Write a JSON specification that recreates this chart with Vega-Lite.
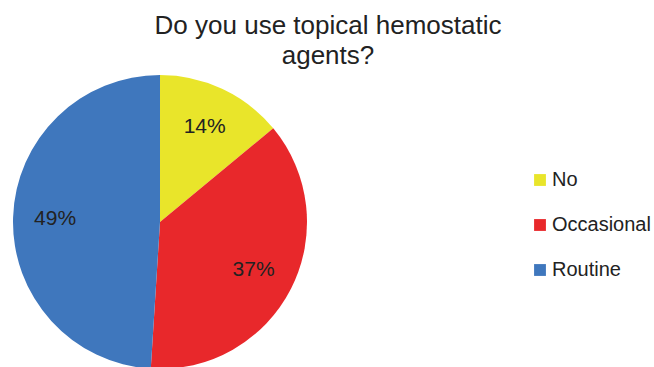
{
  "$schema": "https://vega.github.io/schema/vega-lite/v6.json",
  "autosize": "none",
  "width": 294,
  "height": 294,
  "padding": {"left": 13, "top": 75, "right": 347, "bottom": 0},
  "background": "white",
  "title": {
    "text": ["Do you use topical hemostatic", "agents?"],
    "font": "Liberation Sans",
    "fontSize": 26,
    "fontWeight": "normal",
    "color": "#222222",
    "anchor": "middle",
    "dx": 168,
    "lineHeight": 30,
    "offset": 6
  },
  "data": {
    "values": [
      {"answer": "No", "share": 0.14, "order": 1},
      {"answer": "Occasional", "share": 0.37, "order": 2},
      {"answer": "Routine", "share": 0.49, "order": 3}
    ]
  },
  "encoding": {
    "theta": {"field": "share", "type": "quantitative", "stack": true},
    "order": {"field": "order", "type": "quantitative"},
    "color": {
      "field": "answer",
      "type": "nominal",
      "sort": ["No", "Occasional", "Routine"],
      "scale": {"domain": ["No", "Occasional", "Routine"], "range": ["#e9e52a", "#e8282b", "#3f77bd"]},
      "legend": {
        "title": null,
        "orient": "none",
        "legendX": 517,
        "legendY": 95,
        "symbolType": "square",
        "symbolSize": 140,
        "symbolStrokeWidth": 0,
        "labelFont": "Liberation Sans",
        "labelFontSize": 20,
        "labelColor": "#222222",
        "labelOffset": 2,
        "rowPadding": 25,
        "padding": 0
      }
    }
  },
  "layer": [
    {"mark": {"type": "arc", "outerRadius": 147, "stroke": null}},
    {
      "mark": {"type": "text", "radius": 105, "font": "Liberation Sans", "fontSize": 21, "color": "#222222"},
      "encoding": {
        "text": {"field": "share", "type": "quantitative", "format": ".0%"},
        "color": {"value": "#222222"}
      }
    }
  ]
}
